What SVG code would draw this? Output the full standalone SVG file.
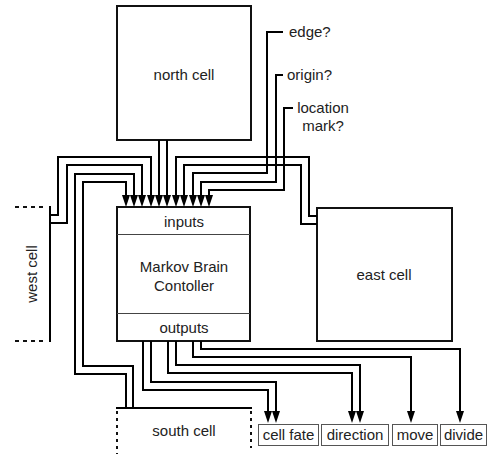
<svg xmlns="http://www.w3.org/2000/svg" width="487" height="454" viewBox="0 0 487 454">
<style>
.box{fill:#fff;stroke:#111;stroke-width:2}
.sep{stroke:#444;stroke-width:1}
.out{fill:#fff;stroke:#555;stroke-width:1}
.w{fill:none;stroke:#000;stroke-width:2}
.dash{fill:none;stroke:#111;stroke-width:2;stroke-dasharray:4 4}
.dot{fill:none;stroke:#111;stroke-width:2;stroke-dasharray:3 4}
text{font-family:"Liberation Sans",Arial,sans-serif;font-size:15px;fill:#222}
.c{text-anchor:middle}
</style>
<defs>
<marker id="ah" viewBox="0 0 12 8" markerWidth="12" markerHeight="8" refX="8" refY="4" orient="auto" markerUnits="userSpaceOnUse">
<path d="M0,0 L12,4 L0,8 z" fill="#000"/>
</marker>
</defs>
<g id="north-cell">
<rect class="box" x="117" y="6" width="134" height="134"/>
<text class="c" x="184" y="80">north cell</text>
</g>
<g id="east-cell">
<rect class="box" x="317" y="208" width="135" height="133"/>
<text class="c" x="384" y="280">east cell</text>
</g>
<g id="west-cell">
<path class="dash" d="M15,207 H47"/>
<path class="dash" d="M15,341 H47"/>
<path class="w" d="M50,206 V342"/>
<text class="c" transform="translate(37,274) rotate(-90)">west cell</text>
</g>
<g id="south-cell">
<path class="w" d="M116,408 H252"/>
<path class="dot" d="M117,411 V454"/>
<path class="dot" d="M251,411 V448"/>
<text class="c" x="184" y="436">south cell</text>
</g>
<g id="markov-brain">
<rect class="box" x="117" y="207" width="133" height="134"/>
<line class="sep" x1="117" y1="234.5" x2="250" y2="234.5"/>
<line class="sep" x1="117" y1="313.5" x2="250" y2="313.5"/>
<text class="c" x="184" y="227">inputs</text>
<text class="c" x="184" y="272">Markov Brain</text>
<text class="c" x="184" y="291">Contoller</text>
<text class="c" x="184" y="333">outputs</text>
</g>
<g id="label-edge"><text x="289" y="37">edge?</text></g>
<g id="label-origin"><text x="287" y="80">origin?</text></g>
<g id="label-location"><text class="c" x="323" y="113">location</text><text class="c" x="323" y="131">mark?</text></g>
<g id="out-cell-fate"><rect class="out" x="258.5" y="424.5" width="60" height="21"/><text class="c" x="288.5" y="440">cell fate</text></g>
<g id="out-direction"><rect class="out" x="321.5" y="424.5" width="67" height="21"/><text class="c" x="355" y="440">direction</text></g>
<g id="out-move"><rect class="out" x="392.5" y="424.5" width="45" height="21"/><text class="c" x="415" y="440">move</text></g>
<g id="out-divide"><rect class="out" x="440.5" y="424.5" width="46" height="21"/><text class="c" x="463.5" y="440">divide</text></g>
<g id="connectors" class="w">
<path class="w" marker-end="url(#ah)" d="M50,215 H58 V157 H151 V203"/>
<path class="w" marker-end="url(#ah)" d="M50,223 H67 V165 H142 V203"/>
<path class="w" marker-end="url(#ah)" d="M126,408 V374 H75 V174 H134 V203"/>
<path class="w" marker-end="url(#ah)" d="M133,408 V366 H83 V182 H126 V203"/>
<path class="w" marker-end="url(#ah)" d="M159,140 V203"/>
<path class="w" marker-end="url(#ah)" d="M167,140 V203"/>
<path class="w" marker-end="url(#ah)" d="M317,216 H309 V157 H176 V203"/>
<path class="w" marker-end="url(#ah)" d="M317,224 H301 V165 H184 V203"/>
<path class="w" marker-end="url(#ah)" d="M283,32 H267 V173 H193 V203"/>
<path class="w" marker-end="url(#ah)" d="M283,75 H276 V182 H201 V203"/>
<path class="w" marker-end="url(#ah)" d="M293,108 H284 V190 H209 V203"/>
<path class="w" marker-end="url(#ah)" d="M143,341 V390 H268 V419"/>
<path class="w" marker-end="url(#ah)" d="M151,341 V382 H276 V419"/>
<path class="w" marker-end="url(#ah)" d="M168,341 V373 H352 V419"/>
<path class="w" marker-end="url(#ah)" d="M176,341 V365 H360 V419"/>
<path class="w" marker-end="url(#ah)" d="M193,341 V357 H411 V419"/>
<path class="w" marker-end="url(#ah)" d="M201,341 V349 H460 V419"/>
</g>
</svg>
